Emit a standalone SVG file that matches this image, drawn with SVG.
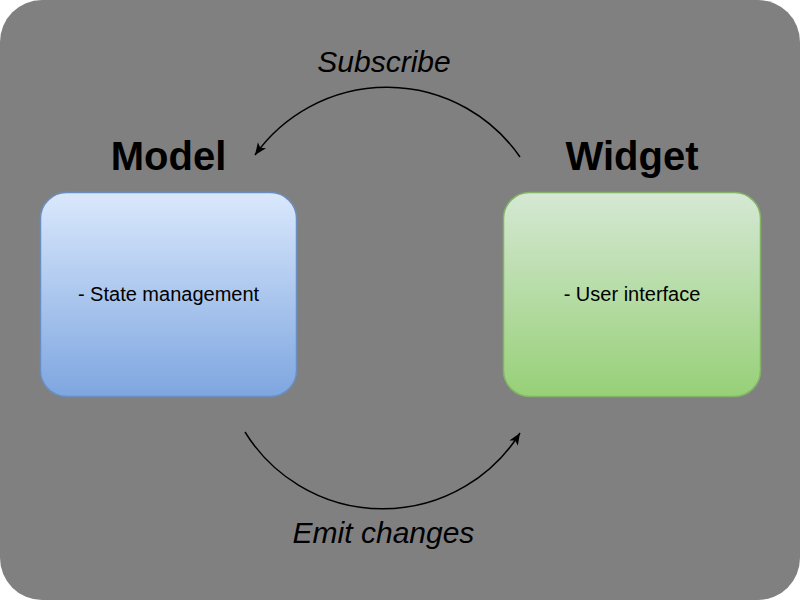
<svg xmlns="http://www.w3.org/2000/svg" width="800" height="600" viewBox="0 0 800 600">
  <defs>
    <linearGradient id="gBlue" x1="0" y1="0" x2="0" y2="1">
      <stop offset="0" stop-color="#dae8fc"/>
      <stop offset="1" stop-color="#7ea6e0"/>
    </linearGradient>
    <linearGradient id="gGreen" x1="0" y1="0" x2="0" y2="1">
      <stop offset="0" stop-color="#d5e8d4"/>
      <stop offset="1" stop-color="#97d077"/>
    </linearGradient>
    <marker id="arrow" markerUnits="userSpaceOnUse" markerWidth="14" markerHeight="12" viewBox="0 0 14 12" refX="13" refY="6" orient="auto">
      <path d="M1,1 L13,6 L1,11 L4,6 Z" fill="#000"/>
    </marker>
  </defs>
  <style>
    .title { font-family: "Liberation Sans", Arial, sans-serif; font-size: 40px; font-weight: bold; fill: #000; text-anchor: middle; }
    .label { font-family: "Liberation Sans", Arial, sans-serif; font-size: 30px; font-style: italic; fill: #000; text-anchor: middle; }
    .body { font-family: "Liberation Sans", Arial, sans-serif; font-size: 20px; fill: #000; text-anchor: middle; }
    .conn { fill: none; stroke: #000; stroke-width: 1.5; marker-end: url(#arrow); }
  </style>
  <rect x="0" y="0" width="800" height="600" fill="#ffffff"/>
  <rect id="background" x="0" y="0" width="800" height="600" rx="42" ry="42" fill="#808080"/>

  <g id="model">
    <text class="title" x="168.5" y="170">Model</text>
    <rect x="40.5" y="192.5" width="256" height="204" rx="26" ry="26" fill="url(#gBlue)" stroke="#6c8ebf" stroke-width="1.5"/>
    <text class="body" x="168.5" y="301">- State management</text>
  </g>

  <g id="widget">
    <text class="title" x="632" y="170">Widget</text>
    <rect x="503.5" y="192.5" width="257" height="204" rx="26" ry="26" fill="url(#gGreen)" stroke="#82b366" stroke-width="1.5"/>
    <text class="body" x="632" y="301">- User interface</text>
  </g>

  <g id="connectors">
    <path class="conn" d="M520,157 A162,162 0 0 0 255,155"/>
    <text class="label" x="384" y="72">Subscribe</text>
    <path class="conn" d="M245,432 A162,162 0 0 0 520,433"/>
    <text class="label" x="383.5" y="543">Emit changes</text>
  </g>
</svg>
